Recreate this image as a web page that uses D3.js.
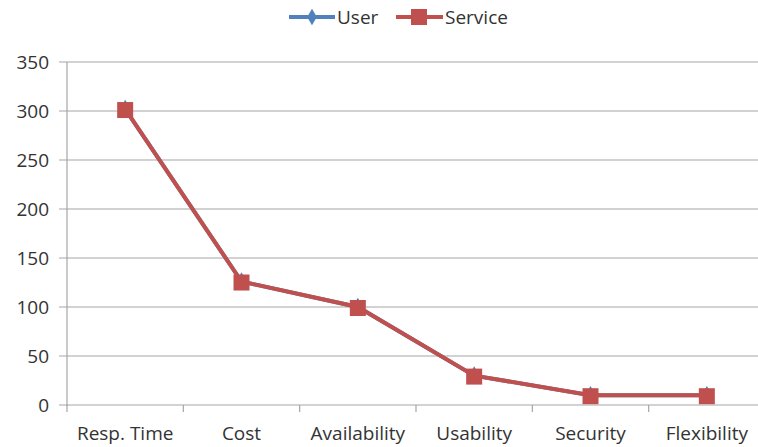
<!DOCTYPE html>
<html>
<head>
<meta charset="utf-8">
<script src="https://cdn.jsdelivr.net/npm/d3@7"></script>
<style>
  body { margin: 0; background: #fff; }
  svg { display: block; font-family: "Open Sans", "Liberation Sans", sans-serif; }
</style>
</head>
<body>
<div id="chart"></div>
<script>
// chart data
const categories = ["Resp. Time", "Cost", "Availability", "Usability", "Security", "Flexibility"];
const userValues = [302, 126, 100, 30, 10, 10];
const serviceValues = [302, 126, 100, 30, 10, 10];
const yTicks = [0, 50, 100, 150, 200, 250, 300, 350];

const w = 758;
const h = 447;
const plotLeft = 67, plotRight = 765, plotTop = 62, plotBottom = 405;
const fontSize = 19;

const svg = d3.select("#chart")
    .append("svg")
    .attr("width", w)
    .attr("height", h);

const x = d3.scaleBand().domain(categories).range([plotLeft, plotRight]);
const y = d3.scaleLinear().domain([0, 350]).range([plotBottom, plotTop]);

// gridlines
svg.selectAll("line.grid")
    .data(yTicks)
    .enter()
    .append("line")
    .attr("class", "grid")
    .attr("x1", plotLeft - 8)
    .attr("x2", plotRight)
    .attr("y1", d => y(d))
    .attr("y2", d => y(d))
    .attr("stroke", "#a6a6a6")
    .attr("stroke-width", 1.2);

// y axis
const yAxis = svg.append("g")
    .attr("transform", "translate(" + plotLeft + ",0)")
    .call(d3.axisLeft(y).tickValues(yTicks).tickSize(8).tickPadding(10));
yAxis.select(".domain").attr("stroke", "#a6a6a6").attr("stroke-width", 1.2).attr("d", "M0," + (plotBottom + 1) + "V" + plotTop);
yAxis.selectAll(".tick line").remove();
yAxis.selectAll("text").attr("font-size", fontSize).attr("fill", "#333").attr("font-family", "Open Sans, sans-serif");

// x axis
const xAxis = svg.append("g")
    .attr("transform", "translate(0," + plotBottom + ")")
    .call(d3.axisBottom(x).tickSize(0).tickPadding(22));
xAxis.select(".domain").remove();
xAxis.selectAll("text").attr("font-size", fontSize).attr("fill", "#333").attr("font-family", "Open Sans, sans-serif");

// category separators
svg.selectAll("line.sep")
    .data(categories)
    .enter()
    .append("line")
    .attr("class", "sep")
    .attr("x1", d => x(d))
    .attr("x2", d => x(d))
    .attr("y1", plotBottom)
    .attr("y2", plotBottom + 7)
    .attr("stroke", "#a6a6a6")
    .attr("stroke-width", 1.2);

const line = d3.line()
    .x((d, i) => x(categories[i]) + x.bandwidth() / 2)
    .y(d => y(d));

// User series (hidden behind service)
svg.append("path")
    .datum(userValues)
    .attr("d", line)
    .attr("fill", "none")
    .attr("stroke", "#4f81bd")
    .attr("stroke-width", 4);
svg.selectAll("path.userMark")
    .data(userValues)
    .enter()
    .append("path")
    .attr("class", "userMark")
    .attr("d", d3.symbol().type(d3.symbolDiamond).size(80))
    .attr("transform", (d, i) => "translate(" + (x(categories[i]) + x.bandwidth() / 2) + "," + (y(d) - 1) + ")")
    .attr("fill", "#4f81bd");

// Service series
svg.append("path")
    .datum(serviceValues)
    .attr("d", line)
    .attr("fill", "none")
    .attr("stroke", "#c0504d")
    .attr("stroke-width", 4);
svg.selectAll("rect.serviceMark")
    .data(serviceValues)
    .enter()
    .append("rect")
    .attr("class", "serviceMark")
    .attr("x", (d, i) => x(categories[i]) + x.bandwidth() / 2 - 8)
    .attr("y", d => y(d) - 7)
    .attr("width", 16)
    .attr("height", 16)
    .attr("fill", "#c0504d");

// legend
const legend = svg.append("g").attr("transform", "translate(0,17)");
legend.append("line").attr("x1", 289).attr("x2", 335).attr("y1", 0).attr("y2", 0)
    .attr("stroke", "#4f81bd").attr("stroke-width", 4);
legend.append("path").attr("d", d3.symbol().type(d3.symbolDiamond).size(80))
    .attr("transform", "translate(312,0)").attr("fill", "#4f81bd");
legend.append("text").attr("x", 337).attr("y", 7).text("User")
    .attr("font-size", fontSize).attr("fill", "#333");
legend.append("line").attr("x1", 396).attr("x2", 443).attr("y1", 0).attr("y2", 0)
    .attr("stroke", "#c0504d").attr("stroke-width", 4);
legend.append("rect").attr("x", 411).attr("y", -8).attr("width", 16).attr("height", 16)
    .attr("fill", "#c0504d");
legend.append("text").attr("x", 445).attr("y", 7).text("Service")
    .attr("font-size", fontSize).attr("fill", "#333");
</script>
</body>
</html>
